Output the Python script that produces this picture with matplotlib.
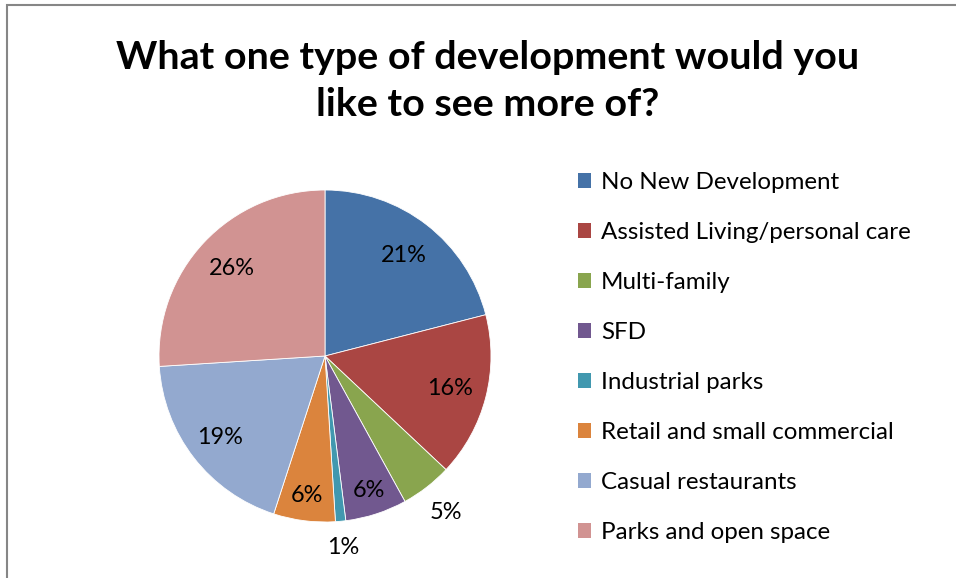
import matplotlib.pyplot as plt
import matplotlib.patches as mpatches
import numpy as np

plt.rcParams['font.family'] = ['Lato', 'DejaVu Sans']

categories = ['No New Development', 'Assisted Living/personal care', 'Multi-family',
              'SFD', 'Industrial parks', 'Retail and small commercial',
              'Casual restaurants', 'Parks and open space']
shares = [21, 16, 5, 6, 1, 6, 19, 26]
colors = ['#4572A7', '#AA4643', '#89A54E', '#71588F', '#4198AF', '#DB843D', '#93A9CF', '#D19392']
# radial distance of each percent label (fraction of radius)
label_dist = [0.77, 0.78, 1.19, 0.85, 1.16, 0.85, 0.80, 0.77]

W, H = 956, 578
fig = plt.figure(figsize=(W / 100, H / 100), dpi=100)

# chart frame
fig.add_artist(mpatches.Rectangle((6.5 / W, -0.1), 2.0, 1.1 - 5.5 / H, transform=fig.transFigure,
                                  fill=False, edgecolor='#868686', linewidth=1.5))

fig.text(488 / W, 1 - 81 / H, 'What one type of development would you\nlike to see more of?',
         ha='center', va='center', fontsize=28.4, fontweight='bold', linespacing=1.42)

cx, cy, r = 325, 356, 166
ax = fig.add_axes([(cx - r) / W, (H - cy - r) / H, 2 * r / W, 2 * r / H])
wedges, _ = ax.pie(shares, colors=colors, startangle=90, counterclock=False, radius=1,
                   wedgeprops=dict(edgecolor='white', linewidth=0.6))
ax.set_xlim(-1, 1)
ax.set_ylim(-1, 1)
ax.axis('off')

total = sum(shares)
start = 90.0
for val, d in zip(shares, label_dist):
    sweep = val / total * 360
    mid = np.deg2rad(start - sweep / 2)
    ax.text(d * np.cos(mid), d * np.sin(mid), '%d%%' % val, ha='center', va='center',
            fontsize=16.9, color='black')
    start -= sweep

handles = [mpatches.Patch(facecolor=c, edgecolor='none', label=l) for c, l in zip(colors, categories)]
fig.legend(handles=handles, loc='upper left', bbox_to_anchor=(578 / W, 1 - 172 / H),
           frameon=False, fontsize=17.4, handlelength=0.55, handleheight=0.55,
           handletextpad=0.4, labelspacing=1.2, borderaxespad=0, borderpad=0)

fig.savefig('out.png', dpi=100)
